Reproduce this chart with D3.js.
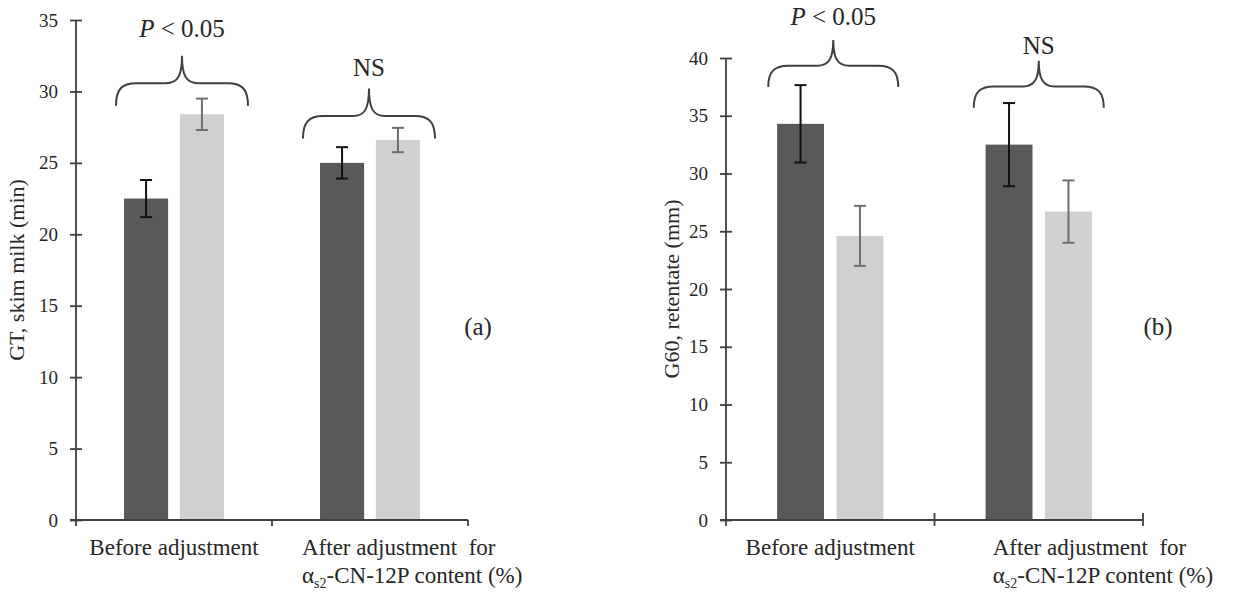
<!DOCTYPE html>
<html>
<head>
<meta charset="utf-8">
<script src="https://cdn.jsdelivr.net/npm/d3@7"></script>
<style>
  body { margin: 0; background: #fff; }
  svg text { font-family: "Liberation Serif", "Times New Roman", serif; fill: #262626; }
</style>
</head>
<body>
<svg id="chart" width="1234" height="597"></svg>
<script>
// categories on the x axis (second one is split on two lines)
const categories = ["Before adjustment", "After adjustment"];
// panel (a): GT, skim milk (min)
const gtDark = [22.5, 25.0];
const gtDarkErr = [1.3, 1.1];
const gtLight = [28.4, 26.6];
const gtLightErr = [1.1, 0.85];
// panel (b): G60, retentate (mm)
const g60Dark = [34.3, 32.5];
const g60DarkErr = [3.35, 3.6];
const g60Light = [24.6, 26.7];
const g60LightErr = [2.6, 2.7];
// significance brace labels and the level (data units) where brace ends sit
const sigLabels = ["P", "NS"];
const gtBraceLevel = [29.0, 26.7];
const g60BraceLevel = [37.5, 35.7];
const gtTicks = [0, 5, 10, 15, 20, 25, 30, 35];
const g60Ticks = [0, 5, 10, 15, 20, 25, 30, 35, 40];

const svg = d3.select('#chart');
const darkColor = '#595959';
const lightColor = '#d0cfd1';
const axisColor = '#404040';

const panels = [
  { x0: 76, x1: 468, yTop: 20, yMax: 35, ticks: gtTicks, dark: gtDark, darkErr: gtDarkErr,
    light: gtLight, lightErr: gtLightErr, brace: gtBraceLevel, braceHalf: 66, braceH: 50,
    labelGap: [19, 13], braceShift: [8, -1], yLabel: 'GT, skim milk (min)', yLabelX: 16,
    tag: '(a)', tagX: 478, lineOffset: -68, xTickUp: 0 },
  { x0: 726, x1: 1143, yTop: 58, yMax: 40, ticks: g60Ticks, dark: g60Dark, darkErr: g60DarkErr,
    light: g60Light, lightErr: g60LightErr, brace: g60BraceLevel, braceHalf: 65, braceH: 47,
    labelGap: [15, 7], braceShift: [3, 0], yLabel: 'G60, retentate (mm)', yLabelX: 671,
    tag: '(b)', tagX: 1158, lineOffset: -46, xTickUp: 7 }
];

const baseY = 520;

function bracePath(cx, hw, yEnd, yH, yPeak) {
  const p = d3.path();
  p.moveTo(cx - hw, yEnd);
  p.bezierCurveTo(cx - hw, yH + 6, cx - hw + 6, yH, cx - hw + 20, yH);
  p.lineTo(cx - 16, yH);
  p.bezierCurveTo(cx - 4, yH, cx, yH - 8, cx, yPeak);
  p.bezierCurveTo(cx, yH - 8, cx + 4, yH, cx + 16, yH);
  p.lineTo(cx + hw - 20, yH);
  p.bezierCurveTo(cx + hw - 6, yH, cx + hw, yH + 6, cx + hw, yEnd);
  return p.toString();
}

panels.forEach(pn => {
  const g = svg.append('g');

  const xScale = d3.scaleBand()
      .domain(categories)
      .range([pn.x0, pn.x1]);
  const yScale = d3.scaleLinear()
      .domain([0, pn.yMax])
      .range([baseY, pn.yTop]);

  const bw = xScale.bandwidth() * 0.225;
  const gap = xScale.bandwidth() * 0.06;
  const center = c => xScale(c) + xScale.bandwidth() / 2;

  // bars
  const series = [
    { vals: pn.dark, errs: pn.darkErr, fill: darkColor, err: '#111', pos: -1 },
    { vals: pn.light, errs: pn.lightErr, fill: lightColor, err: '#6e6e6e', pos: 1 }
  ];
  series.forEach(s => {
    const bx = (c) => s.pos < 0 ? center(c) - gap / 2 - bw : center(c) + gap / 2;
    g.selectAll(null)
      .data(categories)
      .enter()
      .append('rect')
      .attr('x', d => bx(d))
      .attr('y', (d, i) => yScale(s.vals[i]))
      .attr('width', bw)
      .attr('height', (d, i) => yScale(0) - yScale(s.vals[i]))
      .attr('fill', s.fill);

    // error bars
    categories.forEach((c, i) => {
      const mx = bx(c) + bw / 2;
      const top = yScale(s.vals[i] + s.errs[i]);
      const bot = yScale(s.vals[i] - s.errs[i]);
      const eg = g.append('g').attr('stroke', s.err).attr('stroke-width', 2);
      eg.append('line').attr('x1', mx).attr('x2', mx).attr('y1', top).attr('y2', bot);
      eg.append('line').attr('x1', mx - 6).attr('x2', mx + 6).attr('y1', top).attr('y2', top);
      eg.append('line').attr('x1', mx - 6).attr('x2', mx + 6).attr('y1', bot).attr('y2', bot);
    });
  });

  // y axis with ticks crossing the line
  const yAxis = d3.axisLeft(yScale).tickValues(pn.ticks).tickSize(6).tickPadding(12);
  const ya = g.append('g')
      .attr('transform', `translate(${pn.x0},0)`)
      .call(yAxis);
  ya.select('.domain').attr('d', `M0,${baseY}V${pn.yTop}`);
  ya.selectAll('.tick line').attr('x1', 6);
  ya.selectAll('path, line').attr('stroke', axisColor).attr('stroke-width', 1.8);
  ya.selectAll('text')
      .style('font-family', '"Liberation Serif", serif')
      .style('font-size', '19px')
      .attr('fill', '#333');

  // x axis: a line with ticks at band boundaries
  const xa = g.append('g').attr('stroke', axisColor).attr('stroke-width', 1.8);
  xa.append('line').attr('x1', pn.x0 - 6).attr('x2', pn.x1).attr('y1', baseY).attr('y2', baseY);
  [pn.x0, xScale(categories[1]), pn.x1].forEach((tx, i) => {
    xa.append('line').attr('x1', tx).attr('x2', tx)
      .attr('y1', baseY - (i === 0 ? 0 : pn.xTickUp)).attr('y2', baseY + 6);
  });

  // category labels
  g.append('text')
      .attr('x', center(categories[0]))
      .attr('y', 555)
      .attr('text-anchor', 'middle')
      .style('font-size', '23px')
      .text(categories[0]);
  const lx = center(categories[1]) + pn.lineOffset;
  g.append('text')
      .attr('x', lx).attr('y', 555)
      .style('font-size', '23px')
      .attr('xml:space', 'preserve')
      .text('After adjustment  for');
  const l2 = g.append('text')
      .attr('x', lx).attr('y', 583)
      .style('font-size', '23px');
  l2.append('tspan').text('α');
  l2.append('tspan').attr('dy', 5).style('font-size', '14px').text('s2');
  l2.append('tspan').attr('dy', -5).text('-CN-12P content (%)');

  // y axis title
  g.append('text')
      .attr('transform', `translate(${pn.yLabelX},${(baseY + pn.yTop) / 2}) rotate(-90)`)
      .attr('text-anchor', 'middle')
      .attr('dy', '0.35em')
      .style('font-size', '22px')
      .text(pn.yLabel);

  // panel tag
  g.append('text')
      .attr('x', pn.tagX).attr('y', 335)
      .attr('text-anchor', 'middle')
      .style('font-size', '25px')
      .text(pn.tag);

  // braces + significance labels
  categories.forEach((c, i) => {
    const cx = center(c) + pn.braceShift[i];
    const yEnd = yScale(pn.brace[i]);
    const yPeak = yEnd - pn.braceH;
    const yH = yEnd - pn.braceH * 0.45;
    g.append('path')
      .attr('d', bracePath(cx, pn.braceHalf, yEnd, yH, yPeak))
      .attr('fill', 'none')
      .attr('stroke', axisColor)
      .attr('stroke-width', 2);
    const t = g.append('text')
      .attr('x', cx)
      .attr('y', yPeak - pn.labelGap[i])
      .attr('text-anchor', 'middle')
      .attr('xml:space', 'preserve')
      .style('font-size', '25px');
    if (sigLabels[i] === 'P') {
      t.append('tspan').style('font-style', 'italic').text('P');
      t.append('tspan').text(' < 0.05');
    } else {
      t.text(sigLabels[i]);
    }
  });
});
</script>
</body>
</html>
